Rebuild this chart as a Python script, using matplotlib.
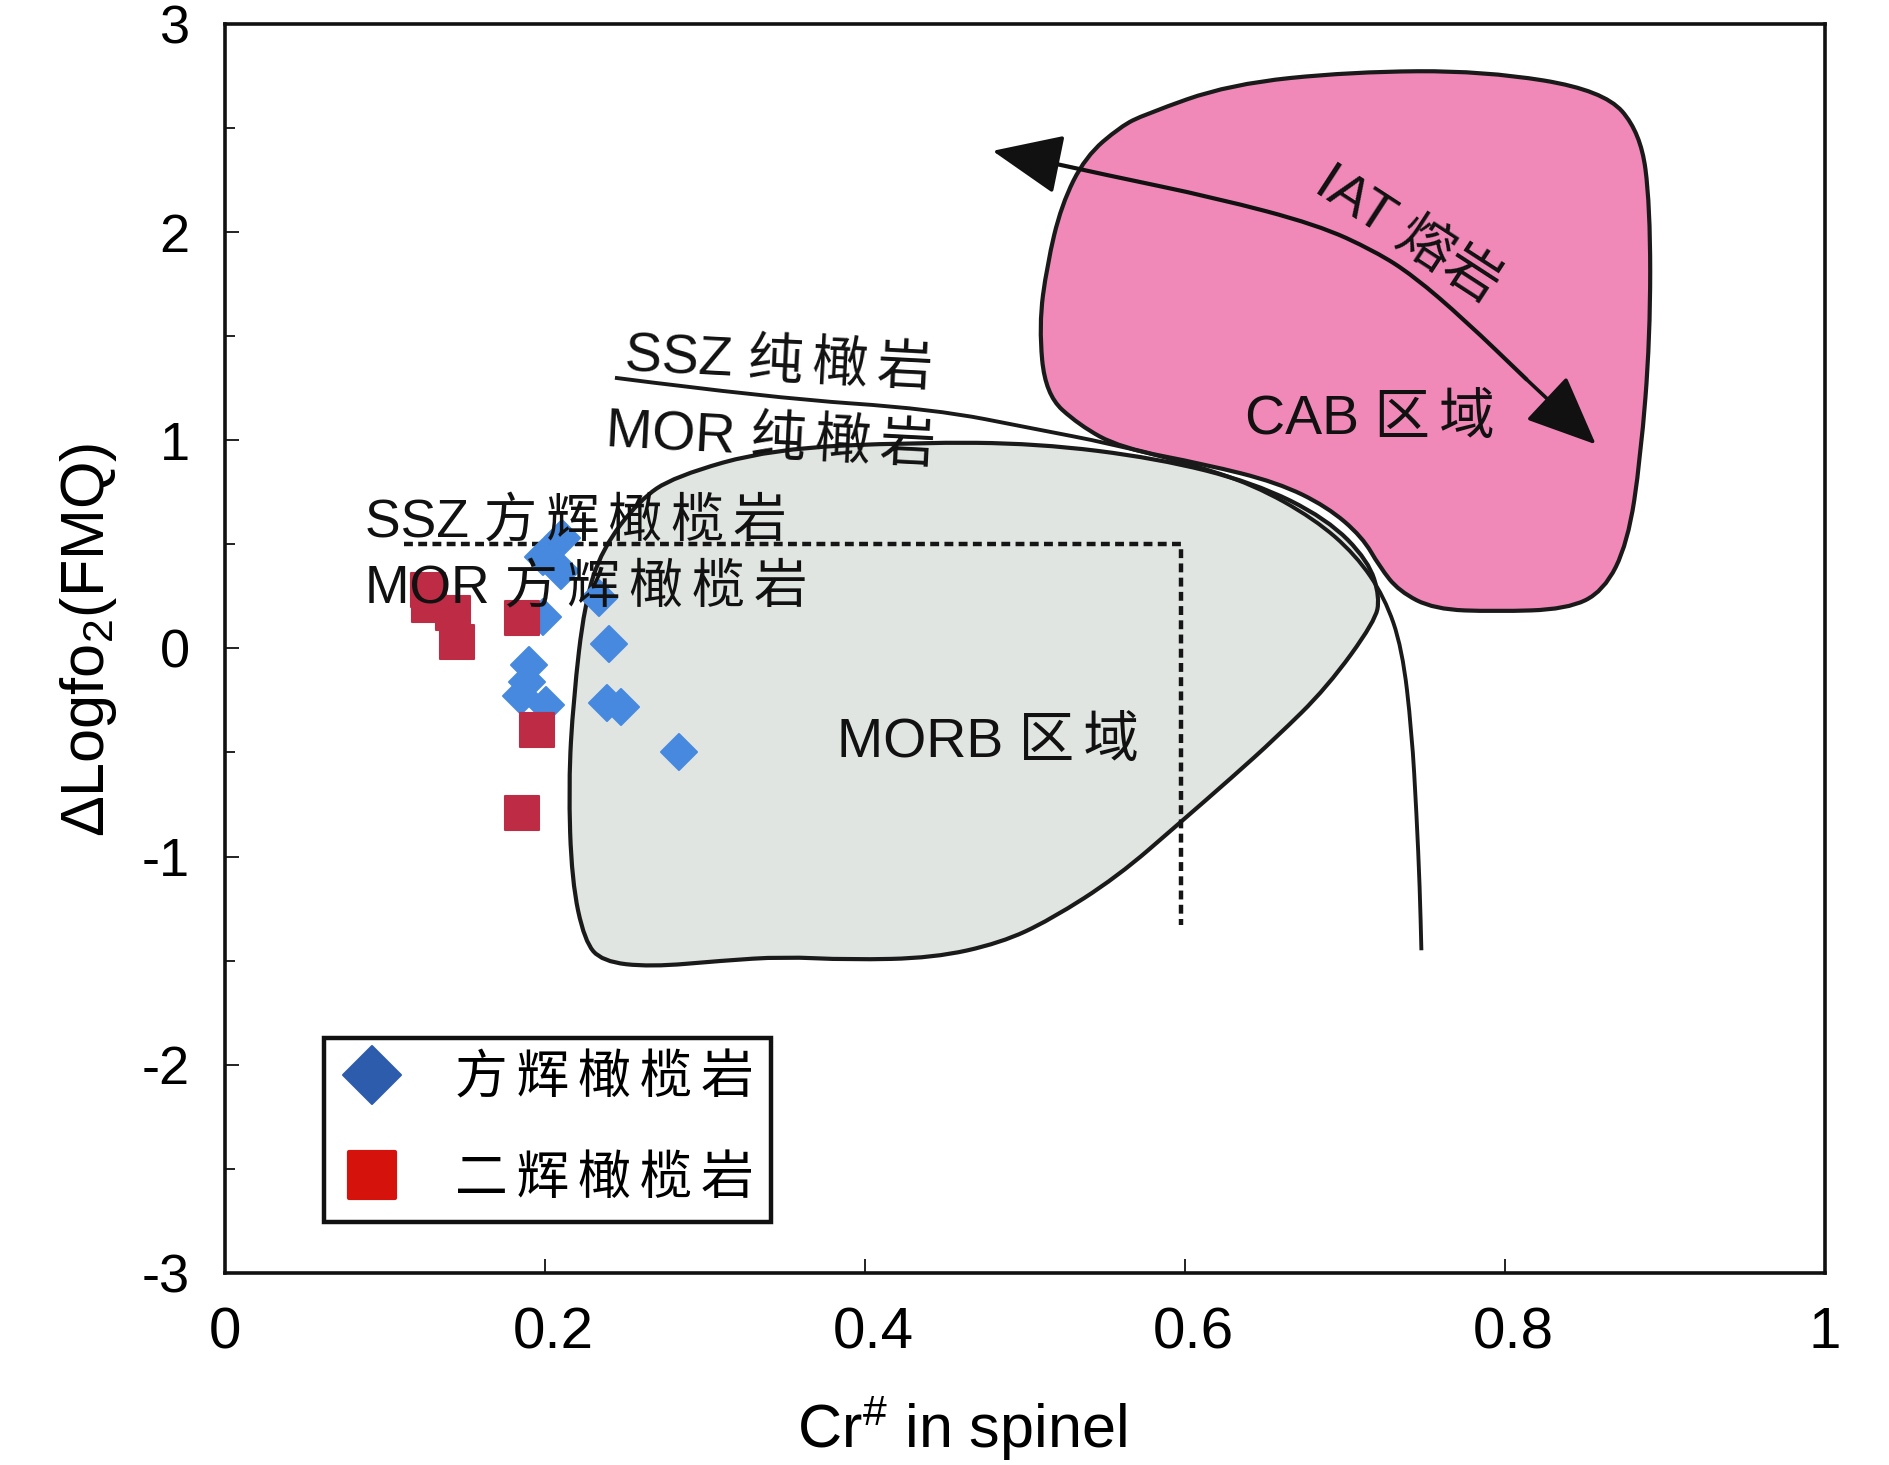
import matplotlib
matplotlib.use("Agg")
import matplotlib.pyplot as plt
from matplotlib.path import Path
from matplotlib.patches import PathPatch
from matplotlib.lines import Line2D
from matplotlib.markers import MarkerStyle
from matplotlib.transforms import ScaledTranslation

plt.rcParams['font.family'] = ['Liberation Sans', 'Noto Sans CJK SC', 'DejaVu Sans']
plt.rcParams['mathtext.fontset'] = 'custom'
plt.rcParams['mathtext.rm'] = 'Liberation Sans'
plt.rcParams['mathtext.it'] = 'Liberation Sans'
plt.rcParams['axes.unicode_minus'] = False

# 方辉橄榄岩 (蓝色菱形)
harz_cr = [0.211, 0.199, 0.210, 0.234, 0.199, 0.240, 0.190, 0.189, 0.185, 0.201, 0.239, 0.248, 0.284]
harz_fo2 = [0.53, 0.44, 0.37, 0.24, 0.15, 0.02, -0.08, -0.16, -0.23, -0.27, -0.26, -0.28, -0.50]
# 二辉橄榄岩 (红色方块)
lherz_cr = [0.127, 0.128, 0.143, 0.145, 0.186, 0.195, 0.186]
lherz_fo2 = [0.28, 0.21, 0.17, 0.03, 0.145, -0.39, -0.79]

# MORB 区域轮廓
morb_x = [0.281, 0.342, 0.432, 0.508, 0.583, 0.643, 0.689, 0.715, 0.722, 0.719, 0.689, 0.657,
          0.630, 0.597, 0.558, 0.516, 0.485, 0.443, 0.390, 0.349, 0.311, 0.266, 0.236, 0.225,
          0.217, 0.215, 0.218, 0.225, 0.236, 0.259]
morb_y = [0.826, 0.959, 0.990, 0.985, 0.913, 0.797, 0.623, 0.420, 0.246, 0.130, -0.188, -0.430,
          -0.617, -0.838, -1.097, -1.304, -1.415, -1.487, -1.496, -1.481, -1.500, -1.530, -1.504,
          -1.406, -1.116, -0.652, -0.246, 0.217, 0.478, 0.710]

# CAB 区域轮廓
cab_x = [0.575, 0.628, 0.704, 0.787, 0.862, 0.885, 0.891, 0.891, 0.885, 0.877, 0.862, 0.839,
         0.794, 0.756, 0.734, 0.722, 0.711, 0.689, 0.658, 0.613, 0.560, 0.534, 0.513, 0.509,
         0.514, 0.523, 0.538, 0.560]
cab_y = [2.565, 2.710, 2.770, 2.775, 2.681, 2.478, 2.130, 1.493, 0.913, 0.507, 0.275, 0.188,
         0.177, 0.188, 0.275, 0.391, 0.536, 0.681, 0.797, 0.884, 0.963, 1.073, 1.220, 1.551,
         1.841, 2.130, 2.362, 2.507]

# SSZ / MOR 纯橄岩分界线
ssz_x = [0.244, 0.342, 0.443, 0.508, 0.553, 0.602, 0.643, 0.681, 0.707, 0.725, 0.736, 0.742, 0.745, 0.747, 0.748]
ssz_y = [1.300, 1.203, 1.150, 1.052, 0.985, 0.890, 0.786, 0.623, 0.449, 0.246, 0.000, -0.400, -0.800, -1.150, -1.450]

# 方辉橄榄岩分界虚线
dash_x = [0.112, 0.598, 0.598]
dash_y = [0.500, 0.500, -1.330]

# IAT 熔岩 趋势箭头
arr_x = [0.480, 0.515, 0.551, 0.619, 0.683, 0.719, 0.743, 0.775, 0.814, 0.857]
arr_y = [2.390, 2.335, 2.274, 2.165, 2.035, 1.908, 1.790, 1.578, 1.290, 0.980]

xticks = [0, 0.2, 0.4, 0.6, 0.8, 1]
xticklabels = ['0', '0.2', '0.4', '0.6', '0.8', '1']
yticks = [-3, -2, -1, 0, 1, 2, 3]
yticklabels = ['-3', '-2', '-1', '0', '1', '2', '3']


def smooth_path(xs, ys, closed=True):
    pts = list(zip(xs, ys))
    n = len(pts)
    mid = lambda a, b: ((a[0] + b[0]) / 2.0, (a[1] + b[1]) / 2.0)
    verts, codes = [], []
    if closed:
        verts.append(mid(pts[-1], pts[0])); codes.append(Path.MOVETO)
        for i in range(n):
            verts.append(pts[i]); codes.append(Path.CURVE3)
            verts.append(mid(pts[i], pts[(i + 1) % n])); codes.append(Path.CURVE3)
        verts.append(verts[0]); codes.append(Path.CLOSEPOLY)
    else:
        verts.append(pts[0]); codes.append(Path.MOVETO)
        for i in range(1, n - 1):
            verts.append(pts[i]); codes.append(Path.CURVE3)
            verts.append(mid(pts[i], pts[i + 1])); codes.append(Path.CURVE3)
        verts.append(pts[-1]); codes.append(Path.LINETO)
    return Path(verts, codes)


fig = plt.figure(figsize=(18.9, 14.65), dpi=100)
ax = fig.add_axes([0.1188, 0.1311, 0.8466, 0.8526])

ax.add_patch(PathPatch(smooth_path(morb_x, morb_y), fc='#e0e5e2', ec='#1a1a1a', lw=3, zorder=1))
ax.add_patch(PathPatch(smooth_path(cab_x, cab_y), fc='#f089b7', ec='#1a1a1a', lw=3, zorder=2))
ax.add_patch(PathPatch(smooth_path(ssz_x, ssz_y, closed=False), fc='none', ec='#1a1a1a', lw=2.8,
                       capstyle='butt', zorder=3))
ax.plot(dash_x, dash_y, color='#151515', lw=3.2, ls=(0, (2.0, 1.2)), zorder=3)

# 箭头
ax.add_patch(PathPatch(smooth_path(arr_x[1:-1], arr_y[1:-1], closed=False), fc='none', ec='#111111',
                       lw=3, zorder=4))
head = dict(arrowstyle='-|>,head_length=2.2,head_width=0.95', mutation_scale=20,
            fc='#111111', ec='#111111', lw=2.6, shrinkA=0, shrinkB=0)
ax.annotate('', xy=(arr_x[0], arr_y[0]), xytext=(arr_x[1], arr_y[1]), arrowprops=head, zorder=4)
ax.annotate('', xy=(arr_x[-1], arr_y[-1]), xytext=(arr_x[-2], arr_y[-2]), arrowprops=head, zorder=4)

diamond = MarkerStyle('D', joinstyle='round')
square = MarkerStyle('s', joinstyle='round')
ax.plot(harz_cr, harz_fo2, ls='none', marker=diamond, ms=18.5, mfc='#4689de', mec='#4689de',
        mew=1.5, zorder=5)
ax.plot(lherz_cr, lherz_fo2, ls='none', marker=square, ms=25, mfc='#bd2c44', mec='#bd2c44',
        mew=1.5, zorder=6)

sp = '\u2006'
lab = dict(fontsize=40, color='#111111', zorder=8, ha='left', va='baseline')
ax.text(0.250, 1.335, 'SSZ ' + sp.join('纯橄岩'), rotation=-3, rotation_mode='anchor', **lab)
ax.text(0.238, 0.970, 'MOR ' + sp.join('纯橄岩'), rotation=-3, rotation_mode='anchor', **lab)
lab['fontsize'] = 38.5
ax.text(0.0875, 0.535, 'SSZ ' + sp.join('方辉橄榄岩'), **lab)
ax.text(0.0875, 0.216, 'MOR ' + sp.join('方辉橄榄岩'), **lab)
lab['fontsize'] = 40
ax.text(0.383, -0.521, 'MORB ' + sp.join('区域'), **lab)
ax.text(0.638, 1.028, 'CAB ' + sp.join('区域'), **lab)
ax.text(0.739, 1.985, 'IAT ' + '熔岩', fontsize=40, color='#111111', ha='center', va='center',
        rotation=-33, rotation_mode='anchor', zorder=8)

handles = [
    Line2D([], [], ls='none', marker=diamond, ms=30, mfc='#2c5cab', mec='#2c5cab', mew=1.5),
    Line2D([], [], ls='none', marker=square, ms=33, mfc='#d6120d', mec='#d6120d', mew=3),
]
leg = ax.legend(handles, [sp.join('方辉橄榄岩'), sp.join('二辉橄榄岩')], loc='lower left',
                bbox_to_anchor=(0.062, 0.041), borderaxespad=0, prop=dict(size=38),
                frameon=True, fancybox=False, edgecolor='#111111', framealpha=1, borderpad=0.32,
                handlelength=1.17, handletextpad=1.0, labelspacing=0.95)
leg.get_frame().set_linewidth(3.2)
leg.set_zorder(9)

ax.set_xlim(0, 1)
ax.set_ylim(-3, 3)
ax.set_xticks(xticks)
ax.set_xticklabels(xticklabels)
ax.set_yticks(yticks)
ax.set_yticklabels(yticklabels)
ax.set_yticks([-2.5, -1.5, -0.5, 0.5, 1.5, 2.5], minor=True)
ax.tick_params(axis='both', which='major', direction='in', length=10, width=1.3,
               labelsize=39, pad=25, color='#111111')
ax.tick_params(axis='x', which='major', labelsize=42, pad=24)
ax.tick_params(axis='y', which='minor', direction='in', length=7.5, width=1.3, color='#111111')
# 小数刻度标签在原图中略向右偏
for lbl, txt in zip(ax.get_xticklabels(), xticklabels):
    if '.' in txt:
        lbl.set_transform(lbl.get_transform() + ScaledTranslation(0.09, 0, fig.dpi_scale_trans))
for s in ax.spines.values():
    s.set_linewidth(2.6)
    s.set_color('#111111')

ax.set_xlabel('Cr$^{\\#}$ in spinel', fontsize=44, va='baseline')
ax.xaxis.set_label_coords(0.461, -0.1405)
ax.set_ylabel('\u0394Logfo$_2$(FMQ)', fontsize=44)
ax.yaxis.set_label_coords(-0.066, 0.507)

fig.savefig('out.png', dpi=100, facecolor='white')
